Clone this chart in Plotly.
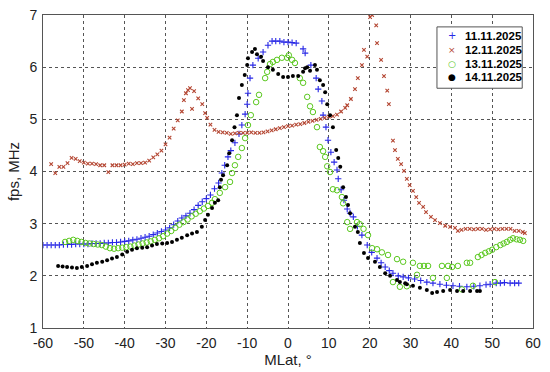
import plotly.graph_objects as go

# 11.11.2025 (blue +)
x_1111 = [-60, -59, -58, -57, -56, -55, -54, -53, -52, -51, -50, -49, -48, -47, -46, -45, -44, -43, -42, -41,
          -40, -39, -38, -37, -36, -35, -34, -33, -32, -31, -30, -29, -28, -27, -26, -25, -24, -23, -22, -21,
          -20, -19, -18, -17, -16.2, -15.5, -14.7, -14, -13, -12, -11.3, -10.5, -10, -9.8, -9.3, -8.6, -7.3,
          -6.1, -4.9, -3.9, -3, -2, -1, 0, 1, 2, 3.7, 4.2, 5.6, 6.9, 7.4, 8.3, 8.6, 9.3, 9.8, 10.5, 11.3, 12,
          12.3, 13, 13.7, 14.5, 15.2, 16, 17, 18.1, 19.4, 20.5, 21.8, 22.8, 23.8, 24.8, 25.7, 27, 28.2, 29.5,
          31, 32.5, 34, 35.5, 37.2, 38.8, 40.4, 42, 43.8, 45.5, 47, 48.5, 49.5, 51, 52, 53, 54.4, 55.5, 56.5]
y_1111 = [2.59, 2.59, 2.59, 2.59, 2.59, 2.6, 2.6, 2.6, 2.61, 2.61, 2.61, 2.61, 2.62, 2.62, 2.62, 2.63, 2.63, 2.64, 2.64, 2.65,
          2.66, 2.67, 2.69, 2.7, 2.72, 2.74, 2.76, 2.79, 2.82, 2.85, 2.88, 2.92, 2.98, 3.05, 3.11, 3.15, 3.2, 3.27, 3.35, 3.42,
          3.48, 3.55, 3.67, 3.78, 3.97, 4.12, 4.28, 4.4, 4.55, 4.72, 4.89, 5.1, 5.29, 5.5, 5.79, 6.04, 6.17,
          6.29, 6.42, 6.5, 6.5, 6.5, 6.48, 6.48, 6.47, 6.46, 6.35, 6.27, 6.04, 5.79, 5.58, 5.35, 5.08, 4.85, 4.6, 4.37, 4.18, 4.03,
          3.86, 3.65, 3.45, 3.28, 3.2, 3.13, 2.95, 2.78, 2.59, 2.45, 2.34, 2.25, 2.17, 2.1, 2.05, 2.0, 1.98, 1.96,
          1.94, 1.91, 1.88, 1.86, 1.84, 1.82, 1.81, 1.8, 1.79, 1.8, 1.81, 1.83, 1.84, 1.86, 1.86, 1.87, 1.86, 1.86, 1.86]

# 12.11.2025 (red x)
x_1211 = [-58, -57, -56, -55, -54, -53, -52, -51, -50, -49, -48, -47, -46, -45, -44, -43, -42, -41, -40, -39,
          -38, -37, -36, -35, -34, -33, -32, -31, -30, -29, -28, -27, -26, -25.5, -25, -24.5, -24, -23.5, -23,
          -22, -21, -20.3, -19.8, -19, -18, -17, -16, -15, -14, -13, -12, -11, -10, -9, -8, -7, -6, -5, -4, -3,
          -2, -1, 0, 1, 2, 3, 4, 5, 6, 7, 8, 9, 10, 11, 12, 13, 14, 14.5, 15.4, 16.4, 17.1, 18.1, 18.6, 19.4,
          20.1, 20.6, 21.6, 21.8, 22.8, 23.5, 24.3, 24.7, 25.7, 26.2, 26.9, 27.7, 28.4, 29.1, 29.8, 30.6, 31.4,
          32.1, 33.1, 33.8, 35, 36, 37.2, 38.5, 39.7, 40.9, 41.6, 42.5, 43.5, 44.5, 45.5, 46.5, 47.5, 48.5, 49.5,
          50.5, 51.5, 52.5, 53.5, 54.5, 55.5, 56.5, 57.5, 58]
y_1211 = [4.14, 3.97, 4.09, 4.09, 4.16, 4.26, 4.24, 4.2, 4.17, 4.15, 4.15, 4.14, 4.12, 4.12, 3.99, 4.12, 4.12, 4.12, 4.13, 4.15,
          4.14, 4.16, 4.16, 4.17, 4.21, 4.27, 4.33, 4.4, 4.52, 4.65, 4.82, 4.98, 5.15, 5.37, 5.5, 5.56, 5.6, 5.2, 5.54,
          5.4, 5.29, 5.12, 5.03, 4.9, 4.8, 4.76, 4.75, 4.74, 4.72, 4.73, 4.74, 4.74, 4.74, 4.75, 4.74, 4.74, 4.75, 4.77, 4.79, 4.81,
          4.83, 4.85, 4.87, 4.88, 4.9, 4.91, 4.93, 4.95, 4.97, 4.99, 5.01, 5.03, 5.05, 5.06, 5.09, 5.15, 5.22, 5.27, 5.39, 5.58, 5.79, 6.04, 6.33, 6.2,
          6.96, 7.0, 6.8, 6.46, 6.14, 5.83, 5.55, 5.29, 4.59, 4.41, 4.24, 4.14, 4.01, 3.86, 3.74, 3.63, 3.51,
          3.4, 3.32, 3.22, 3.13, 3.07, 3.01, 2.96, 2.94, 2.92, 2.86, 2.88, 2.9, 2.9, 2.89, 2.9, 2.9, 2.88, 2.89,
          2.9, 2.89, 2.9, 2.9, 2.9, 2.86, 2.86, 2.84, 2.82]

# 13.11.2025 (green o)
x_1311 = [-54.6, -53.6, -52.6, -51.6, -50.6, -49.6, -48.6, -47.6, -46.6, -45.6, -44.6, -43.6, -42.6, -41.6, -40.6,
          -39.6, -38.6, -37.6, -36.6, -35.6, -34.6, -33.6, -32.6, -31.6, -30.6, -29.6, -28.6, -27.6, -26.6, -25.6,
          -24.6, -23.6, -22.6, -21.6, -20.6, -19.6, -18.6, -17.9, -16.7, -15.4, -14.2, -13.7, -13, -12.2, -11.3,
          -10.5, -9.8, -9.1, -7.8, -7.1, -5.6, -5.1, -4.4, -3.7, -2.7, -1.5, -0.2, 0.2, 1, 1.7, 2.9, 3.7, 4.7, 5.4,
          6.1, 7.1, 7.8, 8.6, 9.1, 9.6, 10.3, 11, 12, 13.2, 13.5, 14.5, 15.2, 16.9, 17.6, 18.5, 19.6, 20.6, 21.8,
          23, 24.5, 25.7, 26.7, 27.4, 28.2, 29.1, 30.6, 31.6, 32.3, 33.3, 34.3, 35.5, 37.7, 38.9, 39.2, 40.2, 41.6,
          42.6, 43.8, 44.6, 45.3, 46.5, 47.4, 48.3, 49.2, 50, 50.7, 51, 52, 52.8, 53.6, 54.4, 55.1, 56, 56.8, 57.6]
y_1311 = [2.65, 2.67, 2.69, 2.67, 2.65, 2.63, 2.62, 2.61, 2.6, 2.59, 2.56, 2.53, 2.52, 2.53, 2.54,
          2.55, 2.56, 2.58, 2.6, 2.62, 2.64, 2.66, 2.69, 2.72, 2.76, 2.81, 2.86, 2.92, 2.98, 3.03,
          3.08, 3.14, 3.19, 3.24, 3.29, 3.34, 3.4, 3.47, 3.59, 3.7, 3.8, 3.97, 4.12, 4.28, 4.45,
          4.64, 4.89, 5.08, 5.33, 5.47, 5.79, 5.91, 6.06, 6.1, 6.14, 6.18, 6.18, 6.23, 6.14, 6.08, 5.79, 5.7, 5.43, 5.25,
          5.14, 4.85, 4.47, 4.39, 4.28, 4.1, 3.99, 3.66, 3.64, 3.51, 3.39, 3.03, 2.9, 3.03, 2.99, 2.9, 2.78, 2.53, 2.51,
          2.45, 2.4, 1.88, 2.32, 1.79, 2.27, 1.8, 2.25, 2.02, 2.19, 2.19, 2.19, 1.96, 2.19, 1.96, 2.19, 2.17, 2.19,
          1.74, 2.25, 2.25, 1.81, 2.36, 2.4, 2.44, 2.47, 2.5, 1.88, 2.55, 2.59, 2.62, 2.65, 2.69, 2.72, 2.7, 2.69, 2.67]

# 14.11.2025 (black dots)
x_1411 = [-56.3, -55.2, -54.1, -52.9, -51.7, -50.5, -49.2, -48, -46.8, -45.5, -44.3, -43.1, -41.9, -40.6, -39.4,
          -38.2, -37, -35.7, -34.5, -33.3, -32.1, -30.8, -29.6, -28.4, -27.2, -26, -24.7, -23.5, -22.3, -21.1,
          -20.3, -19.6, -18.6, -17.9, -17.1, -16.7, -16.4, -15.9, -14.9, -14.4, -13.7, -13.1, -12.5, -12, -11.3,
          -10.6, -10, -9.8, -8.8, -8.1, -7.6, -6.6, -6.1, -4.9, -3.7, -2.4, -1.2, 0, 1.2, 2.5, 3.7, 4.2, 4.7, 5.4,
          6.6, 7.1, 7.8, 8.6, 9.1, 9.6, 10.3, 11, 11.8, 12.3, 12.8, 13.5, 14.2, 14.7, 15.2, 16.4, 17.1, 17.6, 18.6,
          19.6, 21.3, 22.5, 23.8, 25, 26.7, 27.4, 28.7, 29.1, 30.6, 32.3, 34, 35.3, 36.5, 38, 39.7, 41.4, 42.9,
          44.6, 46.3, 47]
y_1411 = [2.19, 2.18, 2.17, 2.16, 2.15, 2.17, 2.19, 2.22, 2.25, 2.27, 2.3, 2.33, 2.36, 2.41, 2.46,
          2.5, 2.53, 2.54, 2.55, 2.58, 2.61, 2.62, 2.63, 2.65, 2.69, 2.73, 2.78, 2.81, 2.84, 2.94,
          3.07, 3.17, 3.3, 3.4, 3.45, 3.7, 3.84, 3.93, 4.12, 4.35, 4.6, 4.85, 5.08, 5.41, 5.66,
          5.85, 6.04, 6.17, 6.29, 6.35, 6.25, 6.2, 6.12, 6.0, 5.95, 5.87, 5.81, 5.81, 5.83, 5.83, 5.91, 5.98, 6.0, 5.93,
          6.04, 5.95, 5.75, 5.66, 5.52, 5.29, 5.08, 4.85, 4.41, 4.26, 4.09, 3.7, 3.51, 3.36, 3.2, 2.94, 2.84, 2.63, 2.44,
          2.34, 2.27, 2.17, 2.05, 2.0, 1.92, 1.88, 1.86, 1.84, 1.81, 1.77, 1.73, 1.67, 1.69, 1.71, 1.73, 1.71, 1.71,
          1.71, 1.71, 1.71]

x_ticks = [-60, -50, -40, -30, -20, -10, 0, 10, 20, 30, 40, 50, 60]
y_ticks = [1, 2, 3, 4, 5, 6, 7]
series_names = ["11.11.2025", "12.11.2025", "13.11.2025", "14.11.2025"]
series_colors = ["rgb(40,40,230)", "rgb(180,70,50)", "rgb(90,200,30)", "black"]
legend_glyphs = ["+", "×", "○", "●"]

FONT = "Liberation Sans, Arial"

fig = go.Figure()
fig.add_trace(go.Scatter(x=x_1111, y=y_1111, mode="markers", name=series_names[0],
                         marker=dict(symbol="cross-thin", size=4.5, color=series_colors[0],
                                     line=dict(color=series_colors[0], width=1.1))))
fig.add_trace(go.Scatter(x=x_1211, y=y_1211, mode="markers", name=series_names[1],
                         marker=dict(symbol="x-thin", size=3.5, color=series_colors[1],
                                     line=dict(color=series_colors[1], width=1.1))))
fig.add_trace(go.Scatter(x=x_1311, y=y_1311, mode="markers", name=series_names[2],
                         marker=dict(symbol="circle-open", size=5.5, color=series_colors[2],
                                     line=dict(color=series_colors[2], width=1))))
fig.add_trace(go.Scatter(x=x_1411, y=y_1411, mode="markers", name=series_names[3],
                         marker=dict(symbol="circle", size=4, color=series_colors[3])))

axis_common = dict(showline=True, mirror=True, linecolor="#555", linewidth=1,
                   showgrid=True, gridcolor="#555", gridwidth=1, griddash="3px,3px",
                   zeroline=False, ticks="", automargin=False,
                   tickfont=dict(family=FONT, size=14, color="#222"))

# compact legend box (paper coordinates)
lx0, lx1, ly0, ly1 = 0.804, 0.978, 0.766, 0.962
row_y = [0.933, 0.888, 0.843, 0.801]
shapes = [dict(type="rect", xref="paper", yref="paper", x0=lx0, x1=lx1, y0=ly0, y1=ly1,
               line=dict(color="#555", width=1), fillcolor="white", layer="above")]
annotations = []
for name, col, g, yy in zip(series_names, series_colors, legend_glyphs, row_y):
    annotations.append(dict(xref="paper", yref="paper", x=0.834, y=yy, text=g, showarrow=False,
                            xanchor="center", yanchor="middle",
                            font=dict(family="DejaVu Sans", size=9 if g != "+" else 10, color=col)))
    annotations.append(dict(xref="paper", yref="paper", x=0.857, y=yy, text="<b>%s</b>" % name,
                            showarrow=False, xanchor="left", yanchor="middle",
                            font=dict(family=FONT, size=11.5, color="black")))

fig.update_layout(
    width=550, height=372,
    margin=dict(l=43, r=17, t=15, b=44),
    paper_bgcolor="white", plot_bgcolor="white",
    font=dict(family=FONT, color="#222"),
    xaxis=dict(range=[-60, 60], tickvals=x_ticks, ticktext=[str(v) for v in x_ticks],
               ticklabelstandoff=2,
               title=dict(text="MLat, °", font=dict(size=15), standoff=2), **axis_common),
    yaxis=dict(range=[1, 7], tickvals=y_ticks, ticktext=[str(v) for v in y_ticks],
               ticklabelstandoff=2,
               title=dict(text="fps, MHz", font=dict(size=15), standoff=6), **axis_common),
    showlegend=False,
    shapes=shapes,
    annotations=annotations,
)

fig.write_html("out.html", config={"displayModeBar": False},
               post_script="document.body.style.margin='0px';document.body.style.overflow='hidden';")
